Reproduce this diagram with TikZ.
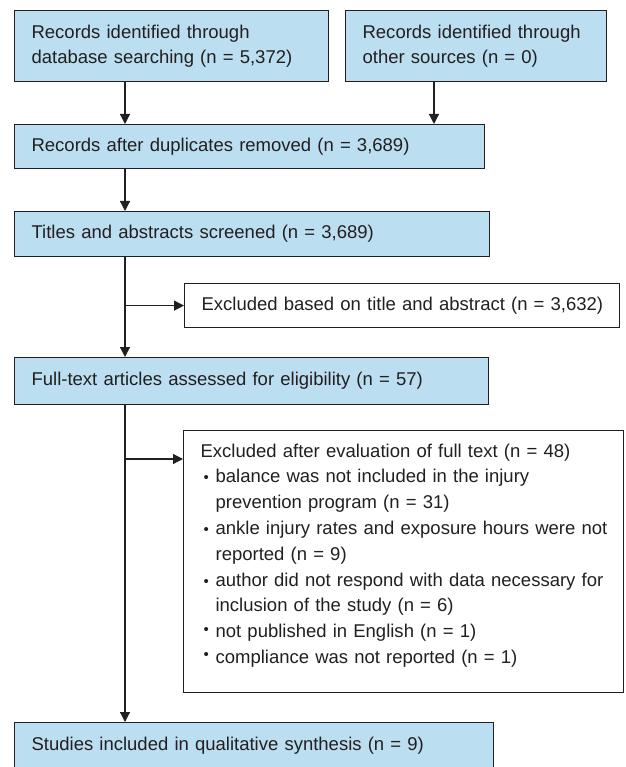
\documentclass[tikz,border=0pt]{standalone}
\usepackage{fontspec}
\setmainfont{Liberation Sans}
\usetikzlibrary{positioning,arrows.meta}
\definecolor{boxblue}{RGB}{187,222,240}
\definecolor{ink}{RGB}{35,31,32}
\newcommand{\lobul}{\hspace*{3pt}\makebox[12pt][l]{\raisebox{0pt}{\fontsize{15}{15}\selectfont\textbullet}}}
\newcommand{\hibul}{\hspace*{3pt}\makebox[12pt][l]{\raisebox{3.5pt}{\fontsize{15}{15}\selectfont\textbullet}}}

\begin{document}
\begin{tikzpicture}[x=1pt,y=-1pt,
    every node/.style={font=\fontsize{18.5}{25}\selectfont, text=ink},
    bluebox/.style={draw=ink, line width=1.2pt, fill=boxblue, rectangle, anchor=north west,
        align=left, inner xsep=17pt, inner ysep=0pt},
    whitebox/.style={bluebox, fill=white},
    arr/.style={line width=1.2pt, draw=ink, -{Triangle[length=10pt,width=10pt]}}]
    \useasboundingbox (0,0) rectangle (625,767);

    % identification
    \node[bluebox, text width=280pt, minimum height=71pt] (dbrec) at (14,10)
        {Records identified through\\database searching (n = 5,372)};
    \node[bluebox, text width=227pt, minimum height=71pt] (otherrec) at (345,10)
        {Records identified through\\other sources (n = 0)};
    \node[bluebox, text width=436pt, minimum height=44pt] (dedup) at (14,124)
        {Records after duplicates removed (n = 3,689)};

    % screening
    \node[bluebox, text width=441pt, minimum height=45pt] (screened) at (14,211)
        {Titles and abstracts screened (n = 3,689)};
    \node[whitebox, text width=401pt, minimum height=44pt] (exclTA) at (184,283)
        {\mbox{Excluded based on title and abstract (n = 3,632)}};

    % eligibility
    \node[bluebox, text width=440pt, minimum height=47pt] (fulltext) at (14,357)
        {Full-text articles assessed for eligibility (n = 57)};
    \node[whitebox, text width=406pt, minimum height=262pt,
        font=\fontsize{18.5}{25.8}\selectfont] (exclFT) at (183,430)
        {\parbox[c][236pt][t]{420pt}{\raggedright
        Excluded after evaluation of full text (n = 48)\par
        \hangindent=15pt\hangafter=1\lobul balance was not included in the injury\newline prevention program (n = 31)\par
        \hangindent=15pt\hangafter=1\lobul ankle injury rates and exposure hours were not\newline reported (n = 9)\par
        \hangindent=15pt\hangafter=1\lobul author did not respond with data necessary for\newline inclusion of the study (n = 6)\par
        \hangindent=15pt\hangafter=1\hibul not published in English (n = 1)\par
        \hangindent=15pt\hangafter=1\hibul compliance was not reported (n = 1)\par}};

    % included
    \node[bluebox, text width=445pt, minimum height=46pt] (included) at (14,722)
        {Studies included in qualitative synthesis (n = 9)};

    \coordinate (spine) at (125,0);
    \coordinate (otherdrop) at (434,0);
    \coordinate (ftbranch) at (125,459);

    \draw[arr] (dbrec.south -| spine) -- (dedup.north -| spine);
    \draw[arr] (otherrec.south -| otherdrop) -- (dedup.north -| otherdrop);
    \draw[arr] (dedup.south -| spine) -- (screened.north -| spine);
    \draw[arr] (screened.south -| spine) -- (fulltext.north -| spine);
    \draw[arr] (spine |- exclTA.west) -- (exclTA.west);
    \draw[arr] (fulltext.south -| spine) -- (included.north -| spine);
    \draw[arr] (ftbranch) -- (ftbranch -| exclFT.west);
\end{tikzpicture}
\end{document}
